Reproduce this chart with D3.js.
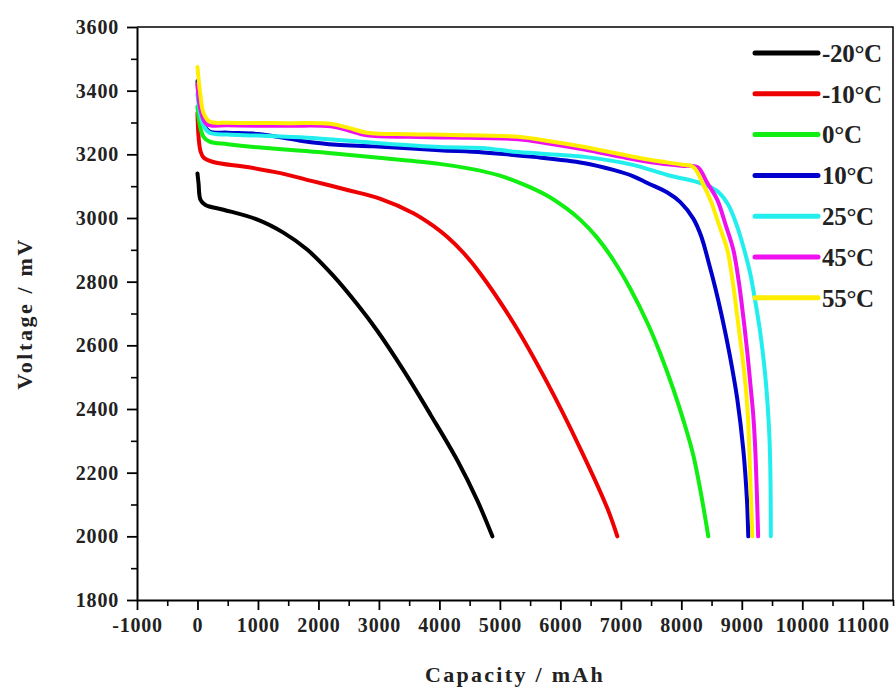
<!DOCTYPE html>
<html>
<head>
<meta charset="utf-8">
<script src="https://cdn.jsdelivr.net/npm/d3@7"></script>
<style>
  body { margin: 0; background: #fff; }
  text { font-family: "Liberation Serif", "Times New Roman", serif; font-weight: bold; }
</style>
</head>
<body>
<svg id="chart" width="895" height="688"></svg>
<script>
// discharge curves, [capacity mAh, voltage mV]
var tempLabels = ['-20°C', '-10°C', '0°C', '10°C', '25°C', '45°C', '55°C'];
var tempColors = ['#000000', '#ee0000', '#11ee11', '#0000cc', '#22eeee', '#ee11ee', '#ffee00'];

var m20 = [[0,3140],[17,3110],[50,3057],[132,3041],[430,3026],[992,2995],[1421,2954],[1818,2900],
  [2248,2818],[2645,2728],[2975,2645],[3405,2522],[3851,2383],[4298,2238],[4628,2112],[4876,2000]];
var m10 = [[0,3330],[20,3250],[50,3210],[100,3190],[260,3176],[826,3160],[1372,3141],[1917,3115],
  [2479,3088],[3025,3060],[3570,3015],[3900,2975],[4132,2940],[4400,2890],[4678,2825],[5223,2671],
  [5785,2482],[6331,2275],[6777,2088],[6942,2000]];
var p0 = [[0,3350],[40,3290],[100,3255],[200,3240],[500,3232],[1000,3222],[2000,3207],[3000,3189],
  [4000,3170],[4500,3155],[5000,3133],[5400,3105],[5785,3070],[6100,3030],[6331,2994],[6600,2940],
  [6876,2868],[7150,2780],[7438,2671],[7650,2575],[7868,2462],[8050,2355],[8198,2255],[8320,2140],
  [8446,2000]];
var p10 = [[0,3430],[40,3340],[100,3295],[200,3272],[500,3268],[1000,3264],[1700,3243],[2300,3230],
  [2900,3225],[4000,3213],[4727,3206],[5554,3192],[6380,3173],[6876,3151],[7207,3131],[7438,3110],
  [7769,3080],[7983,3050],[8198,2998],[8330,2942],[8450,2862],[8560,2782],[8660,2700],[8800,2570],
  [8926,2430],[9025,2272],[9085,2115],[9107,2000]];
var p25 = [[0,3390],[40,3330],[100,3290],[200,3268],[500,3262],[1000,3259],[2000,3250],[3000,3235],
  [4000,3223],[4700,3220],[5300,3207],[6400,3192],[7200,3167],[7770,3135],[8264,3113],[8450,3100],
  [8620,3080],[8780,3040],[8926,2972],[9040,2900],[9140,2825],[9230,2730],[9306,2639],[9380,2520],
  [9421,2429],[9455,2320],[9471,2218],[9478,2100],[9480,2000]];
var p45 = [[0,3420],[50,3340],[150,3295],[500,3291],[1500,3290],[2200,3288],[2500,3275],[2800,3260],
  [3500,3255],[4200,3253],[5300,3247],[5800,3234],[6400,3215],[7000,3192],[7500,3175],[8000,3164],
  [8264,3160],[8430,3110],[8595,3057],[8730,2980],[8860,2900],[8950,2800],[9025,2689],[9090,2580],
  [9140,2482],[9190,2380],[9223,2272],[9250,2130],[9270,2000]];
var p55 = [[0,3474],[40,3400],[100,3330],[200,3303],[500,3299],[1500,3298],[2200,3296],[2500,3283],
  [2800,3268],[3500,3263],[4200,3261],[5300,3255],[5800,3242],[6400,3223],[7000,3200],[7500,3182],
  [8000,3168],[8200,3160],[8350,3110],[8480,3057],[8620,2980],[8760,2900],[8850,2800],[8926,2689],
  [9000,2580],[9058,2482],[9100,2380],[9124,2272],[9150,2130],[9174,2000]];
var seriesData = [m20, m10, p0, p10, p25, p45, p55];

var xTicks = [-1000, 0, 1000, 2000, 3000, 4000, 5000, 6000, 7000, 8000, 9000, 10000, 11000];
var yTicks = [1800, 2000, 2200, 2400, 2600, 2800, 3000, 3200, 3400, 3600];

var svg = d3.select('#chart');
var plotL = 137, plotT = 27, plotR = 893, plotB = 600;

var x = d3.scaleLinear().domain([-1000, 11500]).range([plotL, plotR]);
var y = d3.scaleLinear().domain([1800, 3600]).range([plotB, plotT]);

// frame (top and right)
svg.append('path')
  .attr('d', 'M' + plotL + ',' + plotT + 'H' + plotR + 'V' + plotB)
  .attr('fill', 'none')
  .attr('stroke', '#000')
  .attr('stroke-width', 1.5);

// minor ticks
var xMinor = xTicks.map(function(d) { return d + 500; });
var yMinor = yTicks.slice(0, -1).map(function(d) { return d + 100; });

svg.append('g')
  .attr('transform', 'translate(0,' + plotB + ')')
  .call(d3.axisBottom(x).tickValues(xMinor).tickSize(6).tickFormat(''))
  .call(function(g) { g.select('.domain').remove(); })
  .selectAll('line').attr('stroke-width', 1.6);
svg.append('g')
  .attr('transform', 'translate(' + plotL + ',0)')
  .call(d3.axisLeft(y).tickValues(yMinor).tickSize(6).tickFormat(''))
  .call(function(g) { g.select('.domain').remove(); })
  .selectAll('line').attr('stroke-width', 1.6);

// main axes
var plain = function(d) { return String(d); };
var xAxis = svg.append('g')
  .attr('transform', 'translate(0,' + plotB + ')')
  .call(d3.axisBottom(x).tickValues(xTicks).tickSize(10).tickPadding(8).tickSizeOuter(0).tickFormat(plain));
var yAxis = svg.append('g')
  .attr('transform', 'translate(' + plotL + ',0)')
  .call(d3.axisLeft(y).tickValues(yTicks).tickSize(10).tickPadding(8).tickSizeOuter(0).tickFormat(plain));

[xAxis, yAxis].forEach(function(g) {
  g.select('.domain').attr('stroke-width', 2);
  g.selectAll('.tick line').attr('stroke-width', 1.8);
  g.selectAll('text')
    .attr('font-size', 20)
    .attr('letter-spacing', 0.8)
    .attr('fill', '#222');
});

// curves
var line = d3.line()
  .x(function(d) { return x(d[0]); })
  .y(function(d) { return y(d[1]); })
  .curve(d3.curveCatmullRom.alpha(0.5));

svg.append('g').selectAll('path')
  .data(seriesData)
  .join('path')
  .attr('d', line)
  .attr('fill', 'none')
  .attr('stroke', function(d, i) { return tempColors[i]; })
  .attr('stroke-width', 4)
  .attr('stroke-linejoin', 'round')
  .attr('stroke-linecap', 'round');

// legend
var legend = svg.append('g');
var item = legend.selectAll('g')
  .data(tempLabels)
  .join('g')
  .attr('transform', function(d, i) { return 'translate(755,' + (53 + i * 40.8) + ')'; });
item.append('line')
  .attr('x1', 0).attr('x2', 63)
  .attr('stroke', function(d, i) { return tempColors[i]; })
  .attr('stroke-width', 5)
  .attr('stroke-linecap', 'round');
item.append('text')
  .attr('x', 67)
  .attr('dy', '0.35em')
  .attr('font-size', 25)
  .attr('letter-spacing', -0.3)
  .attr('fill', '#222')
  .text(function(d) { return d; });

// axis titles
svg.append('text')
  .attr('x', (plotL + plotR) / 2)
  .attr('y', 682)
  .attr('text-anchor', 'middle')
  .attr('font-size', 22)
  .attr('letter-spacing', 2.3)
  .attr('fill', '#222')
  .text('Capacity / mAh');

svg.append('text')
  .attr('transform', 'translate(32,' + (plotT + plotB) / 2 + ') rotate(-90)')
  .attr('text-anchor', 'middle')
  .attr('font-size', 22)
  .attr('letter-spacing', 2.6)
  .attr('fill', '#222')
  .text('Voltage / mV');
</script>
</body>
</html>
